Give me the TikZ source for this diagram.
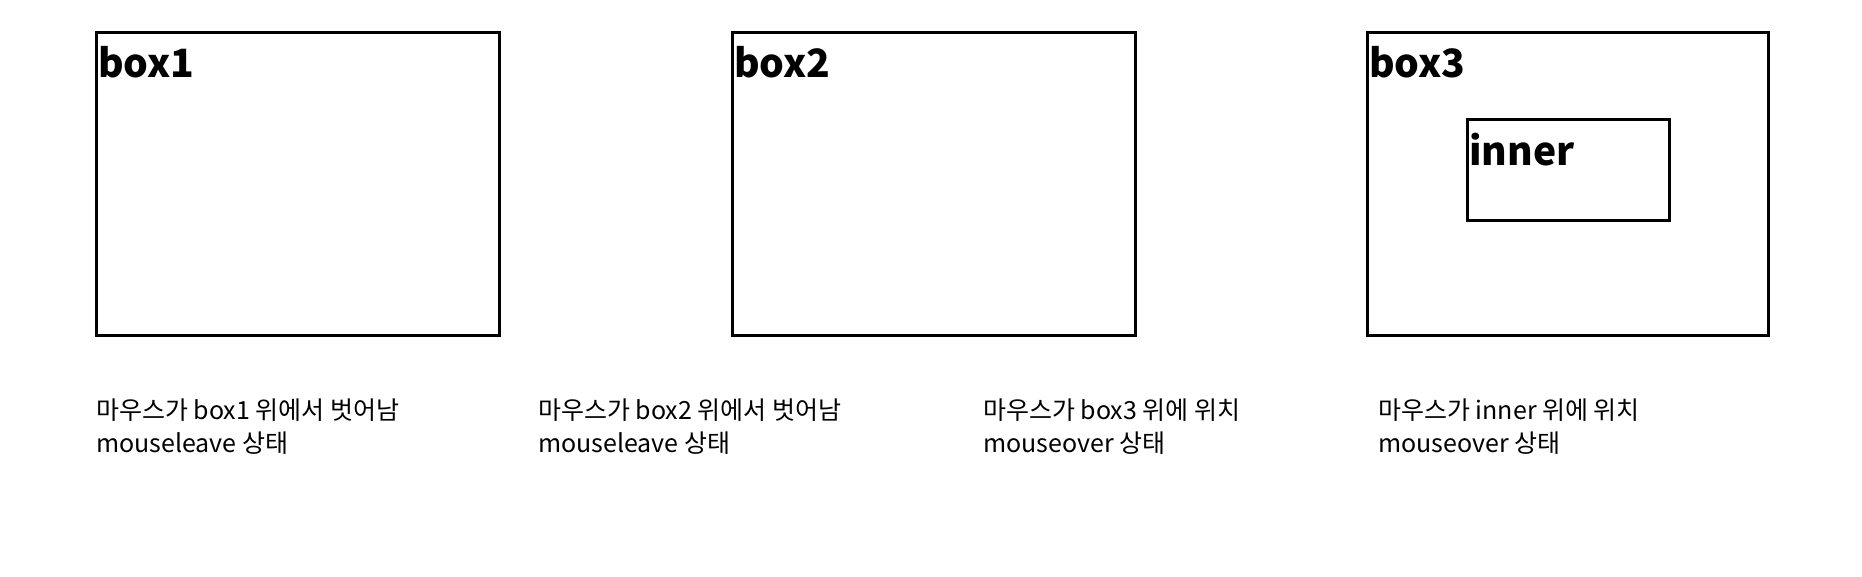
\documentclass[tikz,border=0pt]{standalone}
\usepackage{fontspec}
\setmainfont{Noto Sans CJK KR}
\tikzset{
  frame/.style={draw=black, line width=3pt},
  boxlabel/.style={anchor=base west, inner sep=0pt, font=\fontsize{39}{40}\selectfont\bfseries},
  caption/.style={anchor=base west, inner sep=0pt, align=left, font=\fontsize{25}{32.7}\selectfont}
}
\begin{document}
\begin{tikzpicture}[x=1pt, y=-1pt]
      \useasboundingbox (0,0) rectangle (1862,577);
      %
      \draw [frame] (96,33) rectangle (499,335);
      \draw [frame] (732,33) rectangle (1135,335);
      \draw [frame] (1367,33) rectangle (1768,335);
      \draw [frame] (1467,120) rectangle (1669,221);
      %
      \node [boxlabel] (lbox1) at (98,78) {box1};
      \node [boxlabel] (lbox2) at (734,78) {box2};
      \node [boxlabel] (lbox3) at (1369,78) {box3};
      \node [boxlabel] (linner) at (1469,166) {inner};
      %
      \node [caption] (cap1) at (96,452) {마우스가 box1 위에서 벗어남\\mouseleave 상태};
      \node [caption] (cap2) at (538,452) {마우스가 box2 위에서 벗어남\\mouseleave 상태};
      \node [caption] (cap3) at (983,452) {마우스가 box3 위에 위치\\mouseover 상태};
      \node [caption] (cap4) at (1378,452) {마우스가 inner 위에 위치\\mouseover 상태};
      %
\end{tikzpicture}
\end{document}
